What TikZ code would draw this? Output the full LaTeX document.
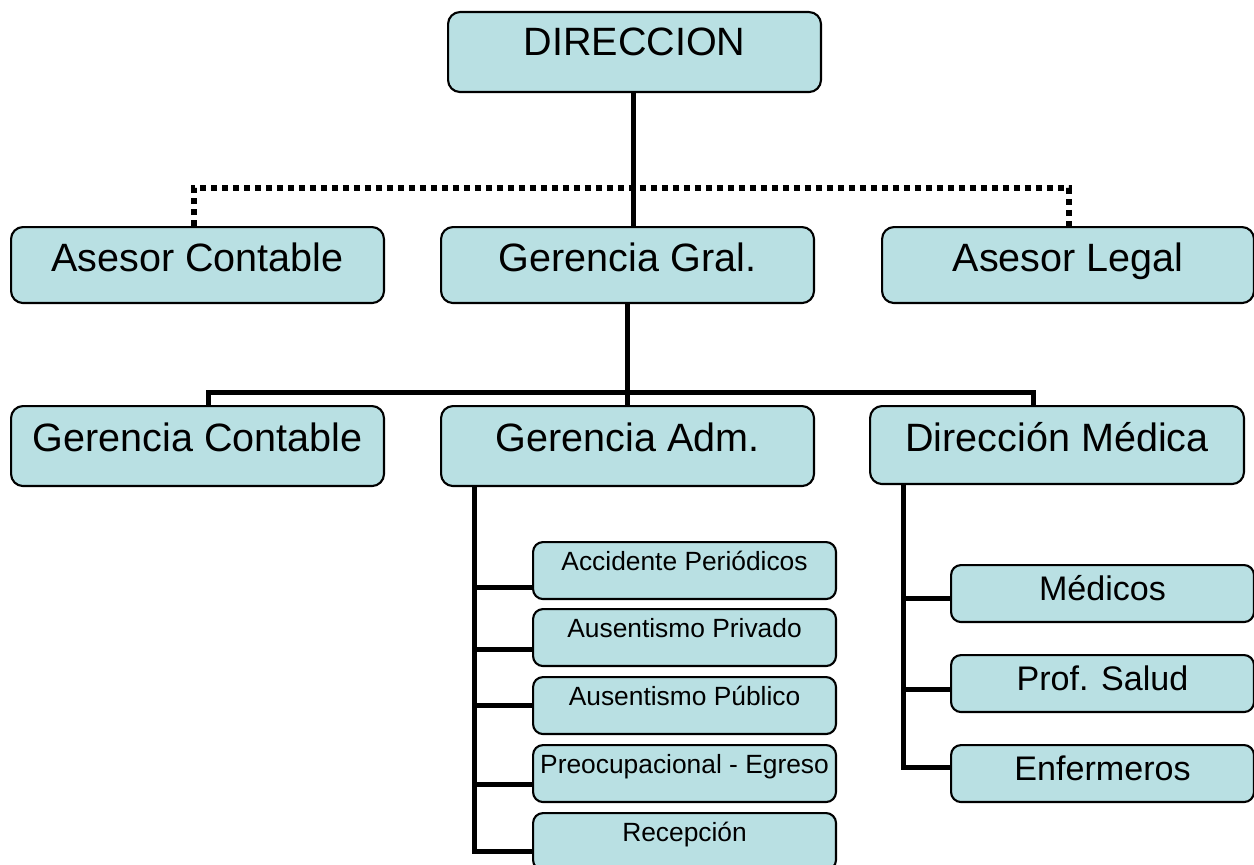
\documentclass[tikz,border=0pt]{standalone}
\usepackage{fontspec}
\setmainfont{Liberation Sans}
\pgfdeclarelayer{paper}
\pgfdeclarelayer{links}
\pgfsetlayers{paper,links,main}
\definecolor{boxfill}{RGB}{185,224,227}
\tikzset{
  orgbox/.style={draw=black, fill=boxfill, line width=1.2pt, rounded corners=0.24cm,
    inner sep=0pt, anchor=north west, align=center},
  bigtxt/.style={orgbox, font=\fontsize{22.5}{27}\selectfont, minimum width=7.46cm},
  midtxt/.style={orgbox, font=\fontsize{19.4}{23}\selectfont, minimum width=6.06cm,
    text height=0.70cm, text depth=0.44cm, rounded corners=0.2cm},
  smalltxt/.style={orgbox, font=\fontsize{15}{18}\selectfont, minimum width=6.06cm,
    text height=0.56cm, text depth=0.58cm, rounded corners=0.2cm},
  conn/.style={line width=0.1cm, draw=black},
  dotconn/.style={line width=0.12cm, draw=black, dash pattern=on 0.12cm off 0.10cm}
}
\begin{document}
\begin{tikzpicture}[x=0.02cm, y=-0.02cm]
\begin{pgfonlayer}{paper}
  \fill[white] (0,0) rectangle (1254,865);
\end{pgfonlayer}
\clip (0,0) rectangle (1254,865);

% top level
\node[bigtxt, text height=0.86cm, text depth=0.74cm] (dir) at (447,11) {DIRECCION};

% second level
\node[bigtxt, text height=0.88cm, text depth=0.64cm] (ac) at (10,226) {Asesor Contable};
\node[bigtxt, text height=0.88cm, text depth=0.64cm] (gg) at (440,226) {Gerencia Gral.};
\node[bigtxt, text height=0.88cm, text depth=0.64cm, minimum width=7.44cm] (al) at (881,226) {Asesor Legal};

% third level
\node[bigtxt, text height=0.90cm, text depth=0.70cm] (gc) at (10,405) {Gerencia Contable};
\node[bigtxt, text height=0.90cm, text depth=0.70cm] (ga) at (440,405) {Gerencia Adm.};
\node[bigtxt, text height=0.90cm, text depth=0.66cm, minimum width=7.48cm] (dm) at (869,405) {Dirección Médica};

% administrative areas
\node[smalltxt] (s1) at (532,541) {Accidente Periódicos};
\node[smalltxt] (s2) at (532,608) {Ausentismo Privado};
\node[smalltxt] (s3) at (532,676) {Ausentismo Público};
\node[smalltxt] (s4) at (532,744) {Preocupacional - Egreso};
\node[smalltxt] (s5) at (532,812) {Recepción};

% medical staff
\node[midtxt] (m1) at (950,564) {Médicos};
\node[midtxt] (m2) at (950,654) {Prof. Salud};
\node[midtxt] (m3) at (950,744) {Enfermeros};

\begin{pgfonlayer}{links}
  % advisory (dotted) links
  \coordinate (dotbar) at (632,188);
  \draw[dotconn] ([xshift=-0.07cm]ac.north) |- (dotbar) -| ([xshift=0.02cm]al.north);
  % direction to general management
  \draw[conn] ([xshift=-0.03cm]dir.south) coordinate (dtop) -- (dtop |- gg.north);
  % general management to its departments
  \coordinate (bar) at (627,392);
  \draw[conn] (gg.south) -- (ga.north);
  \draw[conn] ([xshift=0.21cm]gc.north) |- (bar) -| ([xshift=-0.48cm]dm.north);
  % administrative branch
  \coordinate (atop) at ([xshift=0.70cm]ga.south west);
  \draw[conn] (atop) |- ([yshift=-0.33cm]s1.west);
  \draw[conn] (atop) |- ([yshift=-0.23cm]s2.west);
  \draw[conn] (atop) |- ([yshift=0.01cm]s3.west);
  \draw[conn] (atop) |- ([yshift=-0.21cm]s4.west);
  \draw[conn] (atop) |- ([yshift=-0.19cm]s5.west);
  % medical branch
  \coordinate (mtop) at ([xshift=0.68cm]dm.south west);
  \draw[conn] (mtop) |- ([yshift=-0.09cm]m1.west);
  \draw[conn] (mtop) |- ([yshift=-0.11cm]m2.west);
  \draw[conn] (mtop) |- ([yshift=0.13cm]m3.west);
\end{pgfonlayer}
\end{tikzpicture}
\end{document}
